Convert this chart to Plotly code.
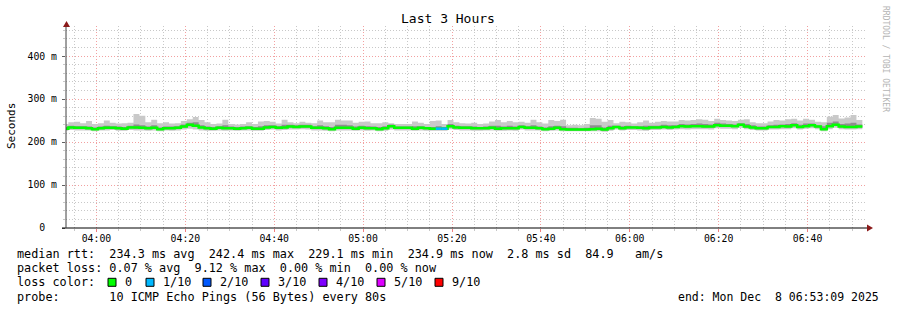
import plotly.graph_objects as go
from datetime import datetime, timedelta

# ---------------- data (milliseconds) ----------------
first_sample = "2025-12-08 03:52:20"
step_seconds = 80
view_start = "2025-12-08 03:53:09"
view_end = "2025-12-08 06:53:09"

median_ms = [
    231, 234, 233, 233, 232, 230, 232, 233, 233, 232, 231, 234, 234, 233, 232,
    233, 230, 232, 232, 233, 236, 240, 238, 234, 232, 231, 233, 232, 232, 231,
    232, 233, 231, 231, 234, 235, 233, 234, 236, 235, 236, 236, 233, 233, 232,
    230, 233, 233, 233, 231, 233, 232, 232, 230, 232, 237, 233, 233, 233, 231,
    233, 232, 231, 231, 231, 237, 234, 233, 233, 232, 232, 232, 233, 231, 232,
    232, 232, 235, 233, 233, 232, 230, 231, 233, 230, 229, 229, 229, 229, 230,
    231, 229, 232, 235, 232, 234, 234, 233, 232, 234, 234, 235, 234, 235, 237,
    236, 237, 237, 236, 236, 239, 238, 238, 237, 240, 236, 234, 232, 232, 235,
    235, 237, 236, 239, 235, 237, 239, 236, 230, 237, 240, 236, 235, 235, 236,
]
ping_max_ms = [
    242, 246, 247, 244, 249, 242, 244, 250, 245, 243, 244, 245, 265, 261, 246,
    252, 244, 246, 243, 244, 249, 253, 258, 251, 246, 242, 243, 252, 242, 241,
    242, 246, 242, 248, 249, 247, 243, 252, 246, 244, 247, 245, 244, 250, 246,
    246, 252, 250, 250, 245, 247, 248, 244, 244, 246, 244, 242, 242, 242, 248,
    245, 242, 249, 250, 242, 251, 246, 244, 243, 245, 242, 243, 248, 251, 246,
    249, 246, 247, 245, 252, 246, 243, 251, 249, 252, 239, 240, 239, 242, 256,
    254, 247, 251, 244, 247, 246, 243, 246, 250, 245, 247, 249, 248, 248, 251,
    250, 251, 253, 252, 249, 254, 251, 250, 249, 252, 253, 246, 244, 244, 248,
    251, 250, 253, 254, 250, 254, 252, 247, 246, 259, 263, 255, 257, 263, 251,
]
ping_min_ms = [
    226, 228, 227, 227, 227, 225, 227, 227, 228, 226, 226, 228, 227, 227, 226,
    227, 225, 227, 226, 227, 229, 231, 229, 227, 226, 226, 227, 226, 227, 226,
    227, 227, 226, 226, 228, 229, 227, 228, 229, 229, 230, 229, 227, 227, 226,
    225, 227, 227, 227, 226, 227, 226, 227, 225, 226, 229, 227, 227, 227, 226,
    227, 226, 226, 226, 226, 230, 228, 227, 227, 226, 226, 227, 227, 226, 226,
    227, 226, 229, 227, 227, 227, 225, 226, 227, 225, 225, 225, 225, 225, 225,
    225, 224, 226, 229, 227, 228, 228, 227, 226, 228, 228, 229, 228, 229, 230,
    229, 230, 230, 230, 229, 232, 231, 231, 230, 233, 230, 228, 227, 227, 229,
    229, 230, 230, 232, 229, 231, 232, 230, 225, 230, 233, 230, 229, 229, 230,
]
band_hi_ms = [
    235, 238, 237, 237, 236, 234, 236, 238, 237, 236, 235, 238, 241, 239, 236,
    239, 234, 236, 236, 237, 241, 245, 246, 239, 236, 235, 237, 239, 236, 235,
    236, 237, 235, 237, 239, 239, 237, 240, 240, 239, 240, 240, 237, 239, 237,
    235, 240, 240, 239, 236, 238, 237, 236, 235, 237, 241, 236, 236, 236, 237,
    237, 235, 235, 237, 235, 242, 238, 237, 237, 236, 235, 236, 238, 238, 236,
    238, 236, 239, 237, 239, 236, 234, 237, 238, 237, 233, 233, 232, 233, 239,
    239, 234, 238, 238, 237, 238, 237, 237, 238, 238, 238, 240, 239, 239, 242,
    241, 242, 243, 242, 241, 245, 243, 242, 241, 244, 242, 239, 236, 236, 239,
    240, 241, 242, 244, 240, 243, 243, 239, 237, 245, 248, 242, 243, 245, 241,
]
band_lo_ms = [
    229, 232, 231, 231, 230, 228, 230, 231, 231, 230, 229, 232, 231, 231, 230,
    231, 228, 230, 230, 231, 234, 237, 235, 232, 230, 229, 231, 230, 230, 229,
    230, 231, 229, 229, 232, 233, 231, 232, 234, 233, 234, 234, 231, 231, 230,
    228, 231, 231, 231, 229, 231, 230, 230, 228, 230, 234, 231, 231, 231, 229,
    231, 230, 229, 229, 229, 234, 232, 231, 231, 230, 230, 230, 231, 229, 230,
    230, 230, 233, 231, 231, 230, 228, 229, 231, 228, 227, 227, 227, 227, 228,
    229, 227, 230, 233, 230, 232, 232, 231, 230, 232, 232, 233, 232, 233, 235,
    234, 235, 235, 234, 234, 237, 236, 236, 235, 238, 234, 232, 230, 230, 233,
    233, 235, 234, 237, 233, 235, 237, 234, 228, 235, 238, 234, 233, 233, 234,
]
loss_tenths = [
    0, 0, 0, 0, 0, 0, 0, 0, 0, 0, 0, 0, 0, 0, 0,
    0, 0, 0, 0, 0, 0, 0, 0, 0, 0, 0, 0, 0, 0, 0,
    0, 0, 0, 0, 0, 0, 0, 0, 0, 0, 0, 0, 0, 0, 0,
    0, 0, 0, 0, 0, 0, 0, 0, 0, 0, 0, 0, 0, 0, 0,
    0, 0, 0, 1, 1, 0, 0, 0, 0, 0, 0, 0, 0, 0, 0,
    0, 0, 0, 0, 0, 0, 0, 0, 0, 0, 0, 0, 0, 0, 0,
    0, 0, 0, 0, 0, 0, 0, 0, 0, 0, 0, 0, 0, 0, 0,
    0, 0, 0, 0, 0, 0, 0, 0, 0, 0, 0, 0, 0, 0, 0,
    0, 0, 0, 0, 0, 0, 0, 0, 0, 0, 0, 0, 0, 0, 0,
]

loss_levels = [0, 1, 2, 3, 4, 5, 9]
loss_labels = ["0", "1/10", "2/10", "3/10", "4/10", "5/10", "9/10"]
loss_colors = ["#00ff00", "#00b8ff", "#0059ff", "#5e00ff", "#7e00ff", "#dd00ff", "#ff0000"]

y_tick_vals = [0, 100, 200, 300, 400]
y_tick_text = ["0  ", "100 m", "200 m", "300 m", "400 m"]

title_text = "Last 3 Hours"
y_title = "Seconds"
watermark = "RRDTOOL / TOBI OETIKER"
legend_lines = [
    "median rtt:  234.3 ms avg  242.4 ms max  229.1 ms min  234.9 ms now  2.8 ms sd  84.9   am/s",
    "packet loss: 0.07 % avg  9.12 % max  0.00 % min  0.00 % now",
    "loss color:",
    "probe:       10 ICMP Echo Pings (56 Bytes) every 80s",
]
end_text = "end: Mon Dec  8 06:53:09 2025"

# ---------------- geometry ----------------
W, H = 897, 310
ML, MR, MT, MB = 66, 31, 26, 82
PW = W - ML - MR
PH = H - MT - MB
MONO = "DejaVu Sans Mono"
legend_square_px = [108, 146, 203, 261, 319, 377, 435]


def px(x):
    return (x - ML) / PW


def py(y):
    return (MT + PH - y) / PH


def nb(s):
    return s.replace(" ", "\u00a0")


t0 = datetime.strptime(first_sample, "%Y-%m-%d %H:%M:%S")
n = len(median_ms)
times = [t0 + timedelta(seconds=step_seconds * i) for i in range(n + 1)]


def ext(v):
    return list(v) + [v[-1]]


fig = go.Figure()
fig.add_trace(go.Scatter(x=times, y=ext(ping_min_ms), mode="lines", line=dict(width=0, shape="hv"),
                         hoverinfo="skip", showlegend=False))
fig.add_trace(go.Scatter(x=times, y=ext(ping_max_ms), mode="lines", line=dict(width=0, shape="hv"),
                         fill="tonexty", fillcolor="#c9c9c9", hoverinfo="skip", showlegend=False))
fig.add_trace(go.Scatter(x=times, y=ext(band_lo_ms), mode="lines", line=dict(width=0, shape="hv"),
                         hoverinfo="skip", showlegend=False))
fig.add_trace(go.Scatter(x=times, y=ext(band_hi_ms), mode="lines", line=dict(width=0, shape="hv"),
                         fill="tonexty", fillcolor="#8e8e8e", hoverinfo="skip", showlegend=False))
fig.add_trace(go.Scatter(x=times, y=ext(median_ms), mode="lines",
                         line=dict(width=2.5, shape="hv", color=loss_colors[0]),
                         hoverinfo="skip", showlegend=False))
for lvl, col in zip(loss_levels[1:], loss_colors[1:]):
    xs, ys = [], []
    for i, l in enumerate(loss_tenths):
        if l == lvl:
            xs += [times[i], times[i + 1], None]
            ys += [median_ms[i], median_ms[i], None]
    if xs:
        fig.add_trace(go.Scatter(x=xs, y=ys, mode="lines", line=dict(width=2.5, color=col),
                                 hoverinfo="skip", showlegend=False))

shapes = []
shapes.append(dict(type="line", xref="paper", yref="paper", x0=px(62), x1=px(868), y0=0, y1=0,
                   line=dict(color="#000000", width=1)))
shapes.append(dict(type="line", xref="paper", yref="paper", x0=0, x1=0, y0=0, y1=py(24),
                   line=dict(color="#404040", width=1)))
shapes.append(dict(type="path", xref="paper", yref="paper",
                   path=f"M {px(867)} {py(224.5)} L {px(867)} {py(231.5)} L {px(873)} {py(228)} Z",
                   fillcolor="#8b1a1a", line=dict(width=0)))
shapes.append(dict(type="path", xref="paper", yref="paper",
                   path=f"M {px(63)} {py(27)} L {px(70)} {py(27)} L {px(66.5)} {py(21)} Z",
                   fillcolor="#8b1a1a", line=dict(width=0)))

annotations = []
annotations.append(dict(text=title_text, x=px(448), y=py(19), xref="paper", yref="paper",
                        showarrow=False, xanchor="center", yanchor="middle",
                        font=dict(family=MONO, size=13, color="#000")))
annotations.append(dict(text=y_title, x=px(11), y=py(126), xref="paper", yref="paper",
                        showarrow=False, textangle=-90, xanchor="center", yanchor="middle",
                        font=dict(family=MONO, size=11, color="#000")))
annotations.append(dict(text=nb(watermark), x=px(886), y=py(59), xref="paper", yref="paper",
                        showarrow=False, textangle=90, xanchor="center", yanchor="middle",
                        font=dict(family=MONO, size=8, color="#b4b4b4")))
line_y = [254.3, 268.3, 282.3, 296.5]
for txt, yy in zip(legend_lines, line_y):
    annotations.append(dict(text=nb(txt), x=px(16), y=py(yy), xref="paper", yref="paper",
                            showarrow=False, xanchor="left", yanchor="middle", borderpad=0,
                            font=dict(family=MONO, size=11.8, color="#000")))
annotations.append(dict(text=nb(end_text), x=px(880), y=py(296.5), xref="paper", yref="paper",
                        showarrow=False, xanchor="right", yanchor="middle", borderpad=0,
                        font=dict(family=MONO, size=11.5, color="#000")))
for lab, col, sq_x in zip(loss_labels, loss_colors, legend_square_px):
    shapes.append(dict(type="rect", xref="paper", yref="paper",
                       x0=px(sq_x), x1=px(sq_x + 8), y0=py(286.3), y1=py(278.3),
                       fillcolor=col, line=dict(color="#000000", width=1)))
    annotations.append(dict(text=nb(lab), x=px(sq_x + 16), y=py(282.3), xref="paper", yref="paper",
                            showarrow=False, xanchor="left", yanchor="middle", borderpad=0,
                            font=dict(family=MONO, size=11.8, color="#000")))

fig.update_layout(
    width=W, height=H,
    margin=dict(l=ML, r=MR, t=MT, b=MB, pad=0),
    paper_bgcolor="#ffffff", plot_bgcolor="#ffffff",
    showlegend=False,
    shapes=shapes, annotations=annotations,
    xaxis=dict(
        type="date", range=[view_start, view_end],
        tickformat="%H:%M", tick0="2025-12-08 04:00:00", dtick=20 * 60 * 1000,
        showgrid=True, gridcolor="#f2a0a0", griddash="1px,2px", gridwidth=1,
        ticks="outside", ticklen=3, tickcolor="#f08080", ticklabelstandoff=-2,
        tickfont=dict(family=MONO, size=9.8, color="#000"),
        minor=dict(dtick=5 * 60 * 1000, showgrid=True, gridcolor="#c8c8c8", griddash="1px,2px",
                   ticks="outside", ticklen=2, tickcolor="#c8c8c8"),
        showline=False, zeroline=False, fixedrange=True,
    ),
    yaxis=dict(
        range=[0, 470], tickvals=y_tick_vals, ticktext=[nb(t) for t in y_tick_text],
        showgrid=True, gridcolor="#f2a0a0", griddash="1px,2px", gridwidth=1,
        ticks="outside", ticklen=3, tickcolor="#606060", ticklabelstandoff=3,
        tickfont=dict(family=MONO, size=9.8, color="#000"),
        minor=dict(dtick=20, showgrid=True, gridcolor="#c8c8c8", griddash="1px,2px",
                   ticks="outside", ticklen=2, tickcolor="#c8c8c8"),
        showline=False, zeroline=False, fixedrange=True,
    ),
)

fig.write_html("out.html")
